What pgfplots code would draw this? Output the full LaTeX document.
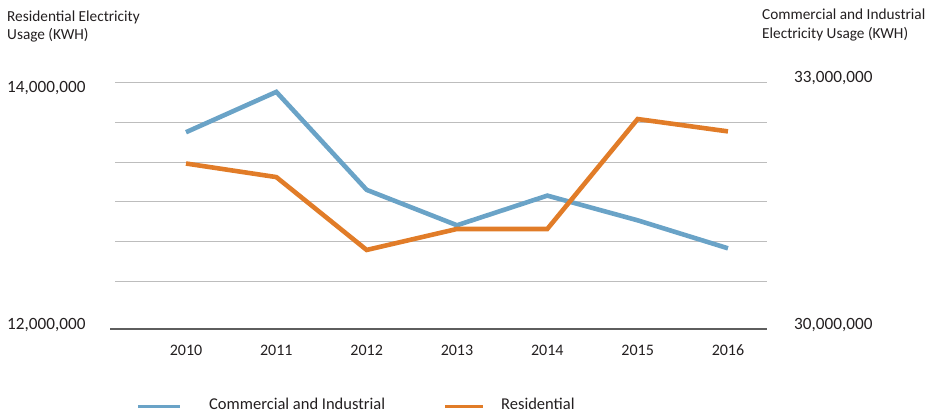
\documentclass[border=0pt]{standalone}
\usepackage{pgfplots}
\pgfplotsset{compat=1.18}
\usepackage{fontspec}
\setmainfont{Carlito}
\definecolor{cblue}{HTML}{6AA3C7}
\definecolor{corange}{HTML}{E17C28}
\definecolor{gridgray}{HTML}{BDBDBD}
\definecolor{basegray}{HTML}{5E5E5E}
\definecolor{txt}{HTML}{231F20}
\newcommand{\tkfont}{\fontsize{17.2}{20}\selectfont}
\newcommand{\ttlfont}{\fontsize{15.3}{18}\selectfont}
\newcommand{\yrfont}{\fontsize{16}{18}\selectfont}
\newcommand{\lgfont}{\fontsize{16.5}{20}\selectfont}
\begin{document}
\begin{tikzpicture}[x=1pt,y=1pt]
\useasboundingbox (0,0) rectangle (927,413);
% right axis: grid + commercial
\begin{axis}[at={(115pt,84pt)}, anchor=south west, scale only axis,
  width=652pt, height=247pt,
  xmin=2009.214, xmax=2016.432, ymin=30000000, ymax=33000000,
  scaled y ticks=false,
  axis line style={draw=none}, tick style={draw=none},
  ytick={30583000,31057000,31543000,32028000,32514000,33000000},
  yticklabels={}, ymajorgrids, grid style={gridgray, line width=1pt},
  xtick={2010,2011,2012,2013,2014,2015,2016},
  xticklabels={2010,2011,2012,2013,2014,2015,2016},
  xticklabel style={anchor=base, yshift=-26pt, font=\yrfont, text=txt, inner sep=0pt},
  clip=false]
\addplot[cblue, line width=4.6pt] coordinates {
(2010,32390000) (2011,32880000) (2012,31690000) (2013,31260000)
(2014,31620000) (2015,31320000) (2016,30980000)};
\end{axis}
% left axis: residential
\begin{axis}[at={(115pt,84pt)}, anchor=south west, scale only axis,
  width=652pt, height=247pt,
  xmin=2009.214, xmax=2016.432, ymin=12000000, ymax=14000000,
  hide axis, clip=false]
\addplot[corange, line width=4.6pt] coordinates {
(2010,13340000) (2011,13230000) (2012,12640000) (2013,12810000)
(2014,12810000) (2015,13700000) (2016,13600000)};
\end{axis}
% baseline
\draw[basegray, line width=1.6pt] (110,84) -- (767,84);
% axis titles
\node[anchor=base west, inner sep=0pt, text=txt, font=\ttlfont] at (7,391.5) {Residential Electricity};
\node[anchor=base west, inner sep=0pt, text=txt, font=\ttlfont] at (7,373.7) {Usage (KWH)};
\node[anchor=base west, inner sep=0pt, text=txt, font=\ttlfont] at (762,393) {Commercial and Industrial};
\node[anchor=base west, inner sep=0pt, text=txt, font=\ttlfont] at (762,374) {Electricity Usage (KWH)};
% tick labels
\node[anchor=base west, inner sep=0pt, text=txt, font=\tkfont] at (7,320.7) {14,000,000};
\node[anchor=base west, inner sep=0pt, text=txt, font=\tkfont] at (7,84) {12,000,000};
\node[anchor=base west, inner sep=0pt, text=txt, font=\tkfont] at (794,330.7) {33,000,000};
\node[anchor=base west, inner sep=0pt, text=txt, font=\tkfont] at (794,84) {30,000,000};
% legend
\draw[cblue, line width=3pt] (138,6.5) -- (180,6.5);
\node[anchor=base west, inner sep=0pt, text=txt, font=\lgfont] at (209,4) {Commercial and Industrial};
\draw[corange, line width=3pt] (445,6.5) -- (483,6.5);
\node[anchor=base west, inner sep=0pt, text=txt, font=\lgfont] at (501,4) {Residential};
\end{tikzpicture}
\end{document}
